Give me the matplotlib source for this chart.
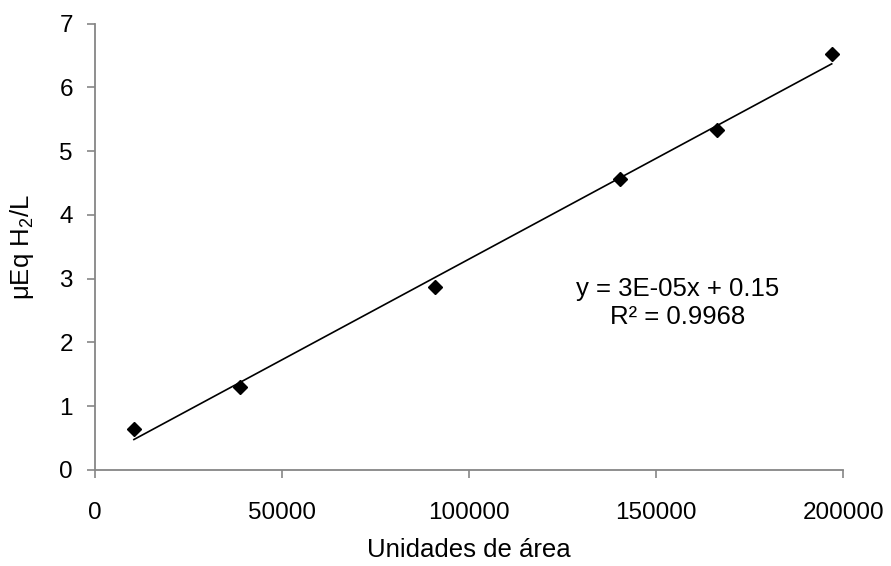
import numpy as np
import matplotlib; matplotlib.use('Agg')
import matplotlib.pyplot as plt

# calibration points
area = [10400, 38750, 91000, 140300, 166300, 196900]
ueq = [0.643, 1.306, 2.864, 4.56, 5.33, 6.52]
x_ticks = [0, 50000, 100000, 150000, 200000]
y_ticks = [0, 1, 2, 3, 4, 5, 6, 7]
eq_text = "y = 3E-05x + 0.15\nR² = 0.9968"

plt.rcParams['font.family'] = ['Liberation Sans', 'DejaVu Sans']
plt.rcParams['mathtext.fontset'] = 'custom'
plt.rcParams['mathtext.rm'] = 'Liberation Sans'
plt.rcParams['mathtext.default'] = 'regular'

GREY = "#868686"
fig = plt.figure(figsize=(8.91, 5.66), dpi=100)
ax = fig.add_axes([95/891, 1-470/566, (843.3-95)/891, (470-23.5)/566])

# linear trendline over the data range
k, b = np.polyfit(area, ueq, 1)
xs = np.array([min(area), max(area)])
ax.plot(xs, k*xs+b, color='black', lw=1.2, zorder=2)
ax.plot(area, ueq, 'D', color='black', ms=7.5, zorder=3, clip_on=False)

ax.set_xlim(0, 200000); ax.set_ylim(0, 7)
ax.set_xticks(x_ticks); ax.set_yticks(y_ticks)
ax.set_xticklabels([str(v) for v in x_ticks]); ax.set_yticklabels([str(v) for v in y_ticks])
for s in ['top', 'right']:
    ax.spines[s].set_visible(False)
for s in ['left', 'bottom']:
    ax.spines[s].set_color(GREY); ax.spines[s].set_linewidth(1.3)
ax.tick_params(direction='out', length=6, width=1.2, color=GREY, labelsize=17.5)
ax.tick_params(axis='x', pad=17)
ax.tick_params(axis='y', pad=10)

ax.set_xlabel("Unidades de área", fontsize=18.5, labelpad=10)
ax.set_ylabel("μEq H$_2$/L", fontsize=18.5, labelpad=17)
ax.text(155800, 2.62, eq_text, ha='center', va='center', multialignment='center', fontsize=18.5, linespacing=1.24)

plt.savefig("out.png", dpi=100, facecolor='white')
